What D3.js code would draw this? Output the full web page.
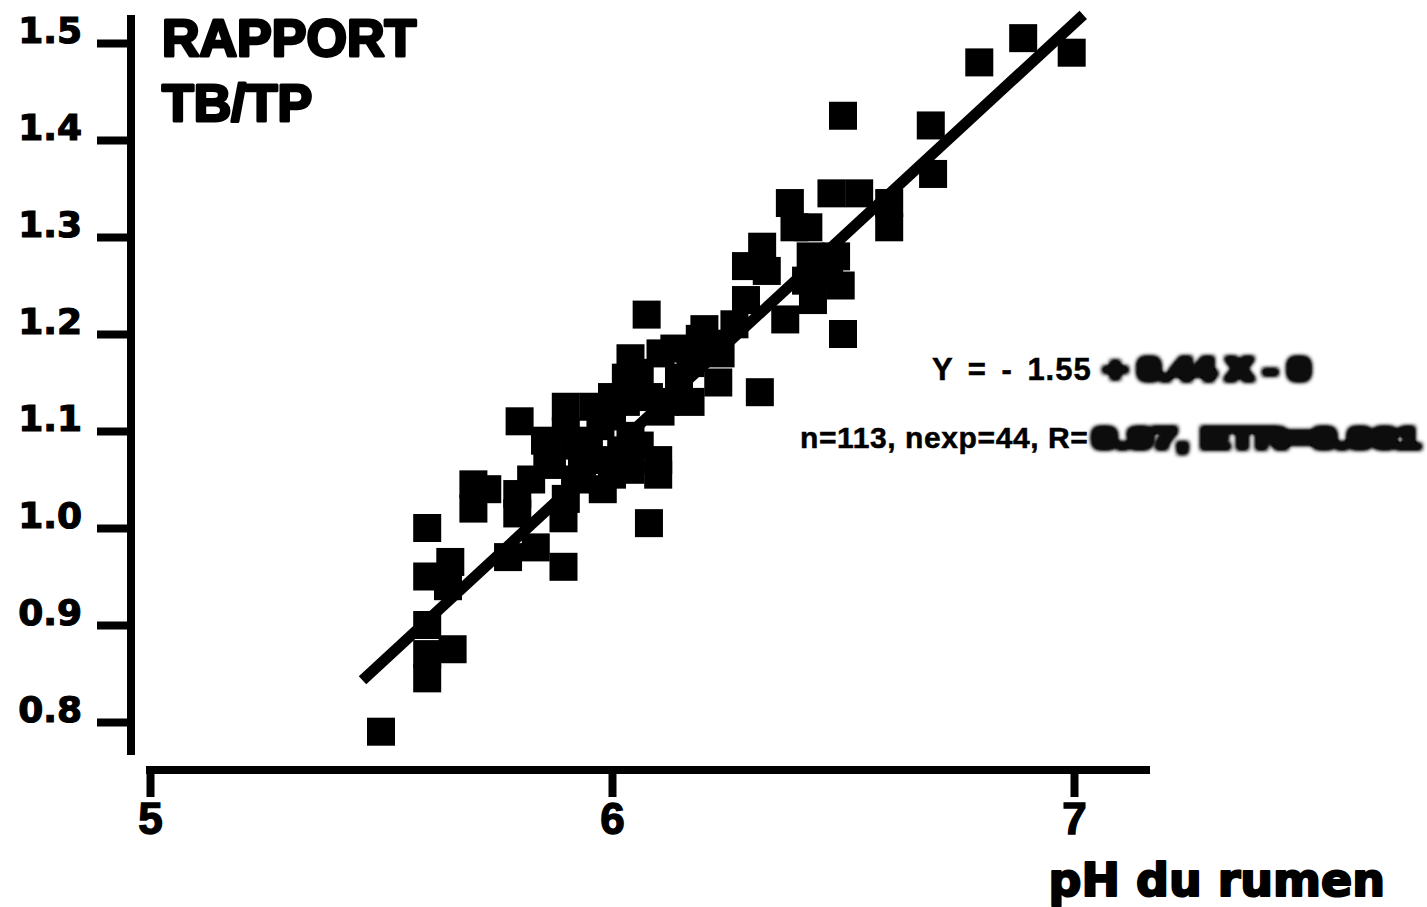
<!DOCTYPE html>
<html>
<head>
<meta charset="utf-8">
<script src="https://cdn.jsdelivr.net/npm/d3@7"></script>
<style>
  html, body { margin: 0; padding: 0; background: #fff; }
  svg { display: block; }
</style>
</head>
<body>
<svg id="chart" width="1427" height="907"></svg>
<script>
// ---------- data ----------
const phValues = [
  5.50, 5.60, 5.60, 5.65, 5.645, 5.60, 5.60, 5.60, 5.655, 5.70,
  5.73, 5.70, 5.80, 5.775, 5.835, 5.795, 5.795, 5.825, 5.895, 5.895,
  5.90, 5.855, 5.86, 5.90, 5.92, 5.95, 5.935, 5.975, 6.00, 5.975,
  6.00, 5.92, 6.08, 6.10, 6.10, 6.04, 6.06, 6.03, 6.04, 6.06,
  6.105, 6.135, 6.08, 6.145, 6.115, 6.17, 6.19, 6.20, 6.225, 6.235,
  6.23, 6.17, 6.105, 6.03, 6.00, 6.075, 6.29, 6.325, 6.335, 6.29,
  6.375, 6.32, 6.265, 6.385, 6.395, 6.425, 6.475, 6.535, 6.60, 6.60,
  6.43, 6.485, 6.42, 6.47, 6.495, 6.435, 6.50, 6.50, 6.69, 6.695,
  6.795, 6.89, 6.995, 5.90, 5.96, 6.04, 6.02, 5.87, 5.98
];
const ratioValues = [
  0.79, 1.00, 0.95, 0.965, 0.94, 0.90, 0.87, 0.845, 0.875, 1.045,
  1.04, 1.02, 1.11, 0.97, 0.98, 1.035, 1.015, 1.05, 0.96, 1.01,
  1.125, 1.09, 1.075, 1.10, 1.085, 1.09, 1.06, 1.07, 1.055, 1.105,
  1.115, 1.05, 1.005, 1.07, 1.055, 1.06, 1.085, 1.155, 1.175, 1.16,
  1.18, 1.185, 1.135, 1.155, 1.13, 1.17, 1.195, 1.205, 1.19, 1.18,
  1.15, 1.13, 1.12, 1.13, 1.135, 1.22, 1.27, 1.29, 1.265, 1.235,
  1.215, 1.14, 1.21, 1.335, 1.31, 1.31, 1.345, 1.345, 1.335, 1.31,
  1.28, 1.28, 1.255, 1.26, 1.25, 1.235, 1.20, 1.425, 1.415, 1.365,
  1.48, 1.505, 1.49, 1.03, 1.125, 1.095, 1.08, 1.065, 1.04
];
const fitX = [5.46, 7.02];
const fitY = [0.843, 1.529];
const xTicks = [5, 6, 7];
const yTicks = [0.8, 0.9, 1.0, 1.1, 1.2, 1.3, 1.4, 1.5];
const yTickLabels = ["0.8", "0.9", "1.0", "1.1", "1.2", "1.3", "1.4", "1.5"];
const titleLines = ["RAPPORT", "TB/TP"];
const xTitle = "pH du rumen";
const eqVisible = "Y = - 1.55";
const eqHidden = "+ 0.44 X - 0";
const statsVisible = "n=113, nexp=44, R=";
const statsHidden = "0.97, ETR=0.061";

// ---------- layout ----------
const svg = d3.select("#chart");
const x = d3.scaleLinear().domain([5, 7]).range([150, 1074]);
const y = d3.scaleLinear().domain([0.8, 1.5]).range([722, 43]);
const yAxisX = 131, xAxisY = 770;

const defs = svg.append("defs");
const smudge = defs.append("filter").attr("id", "smudge")
  .attr("x", "-5%").attr("y", "-50%").attr("width", "110%").attr("height", "200%");
smudge.append("feMorphology").attr("operator", "dilate").attr("radius", "3 2.4").attr("result", "d");
smudge.append("feGaussianBlur").attr("in", "d").attr("stdDeviation", "2.2").attr("result", "b");
const ct = smudge.append("feComponentTransfer").attr("in", "b");
ct.append("feFuncA").attr("type", "linear").attr("slope", 1.7).attr("intercept", 0);

// y axis
const yAxis = d3.axisLeft(y).tickValues(yTicks).tickSize(34).tickSizeOuter(0)
  .tickFormat((d, i) => yTickLabels[i]);
const gy = svg.append("g").attr("transform", `translate(${yAxisX},0)`).call(yAxis);
gy.select(".domain").remove();
gy.selectAll(".tick line").attr("stroke", "#000").attr("stroke-width", 8);
gy.selectAll(".tick text")
  .attr("x", -49).attr("dy", null).attr("y", -1)
  .attr("dominant-baseline", "auto")
  .attr("font-family", "DejaVu Sans").attr("font-weight", "bold").attr("font-size", 36)
  .attr("fill", "#000").attr("stroke", "#000").attr("stroke-width", 1.2);
svg.append("line").attr("x1", yAxisX).attr("x2", yAxisX).attr("y1", 15).attr("y2", 755)
  .attr("stroke", "#000").attr("stroke-width", 8);

// x axis
const xAxis = d3.axisBottom(x).tickValues(xTicks).tickSize(27).tickSizeOuter(0).tickFormat(d3.format("d"));
const gx = svg.append("g").attr("transform", `translate(0,${xAxisY})`).call(xAxis);
gx.select(".domain").remove();
gx.selectAll(".tick line").attr("stroke", "#000").attr("stroke-width", 8);
gx.selectAll(".tick text")
  .attr("y", 64).attr("dy", null)
  .attr("font-family", "Liberation Sans").attr("font-weight", "bold").attr("font-size", 44)
  .attr("fill", "#000").attr("stroke", "#000").attr("stroke-width", 1.4);
svg.append("line").attr("x1", 146).attr("x2", 1150).attr("y1", xAxisY).attr("y2", xAxisY)
  .attr("stroke", "#000").attr("stroke-width", 8);

// regression line
svg.append("line")
  .attr("x1", x(fitX[0])).attr("y1", y(fitY[0]))
  .attr("x2", x(fitX[1])).attr("y2", y(fitY[1]))
  .attr("stroke", "#000").attr("stroke-width", 11);

// points
const pts = phValues.map((v, i) => ({ ph: v, r: ratioValues[i] }));
const s = 28;
svg.append("g").selectAll("rect").data(pts).join("rect")
  .attr("x", d => x(d.ph) - s / 2).attr("y", d => y(d.r) - s / 2)
  .attr("width", s).attr("height", s).attr("fill", "#000");

// title
svg.append("g").selectAll("text").data(titleLines).join("text")
  .attr("x", 162).attr("y", (d, i) => 56 + i * 65)
  .attr("font-family", "Liberation Sans").attr("font-weight", "bold").attr("font-size", 52)
  .attr("fill", "#000").attr("stroke", "#000").attr("stroke-width", 3).attr("stroke-linejoin", "round")
  .text(d => d);

// x title
svg.append("text").attr("x", 1385).attr("y", 896).attr("text-anchor", "end")
  .attr("font-family", "DejaVu Sans").attr("font-weight", "bold").attr("font-size", 46)
  .attr("fill", "#000").attr("stroke", "#000").attr("stroke-width", 2.2).attr("stroke-linejoin", "round")
  .text(xTitle);

// equation + stats (hidden parts smudged as in the source)
function smudgedLine(xPos, yPos, visible, hidden, endX, size, letterSp, wordSp, gap) {
  const t = svg.append("text").attr("x", xPos).attr("y", yPos)
    .attr("font-family", "Liberation Sans").attr("font-weight", "bold").attr("font-size", size)
    .attr("letter-spacing", letterSp).attr("word-spacing", wordSp)
    .attr("fill", "#000").attr("stroke", "#000").attr("stroke-width", 0.5)
    .text(visible);
  const w = t.node().getComputedTextLength();
  const startH = xPos + w + gap;
  svg.append("text").attr("x", startH).attr("y", yPos)
    .attr("font-family", "Liberation Sans").attr("font-weight", "bold").attr("font-size", size)
    .attr("textLength", endX - startH).attr("lengthAdjust", "spacingAndGlyphs")
    .attr("fill", "#111").attr("filter", "url(#smudge)")
    .text(hidden);
}
smudgedLine(932, 380, eqVisible, eqHidden, 1310, 31, 1, 5, 12);
smudgedLine(800, 448, statsVisible, statsHidden, 1420, 30, 0.6, 0, 4);
</script>
</body>
</html>
